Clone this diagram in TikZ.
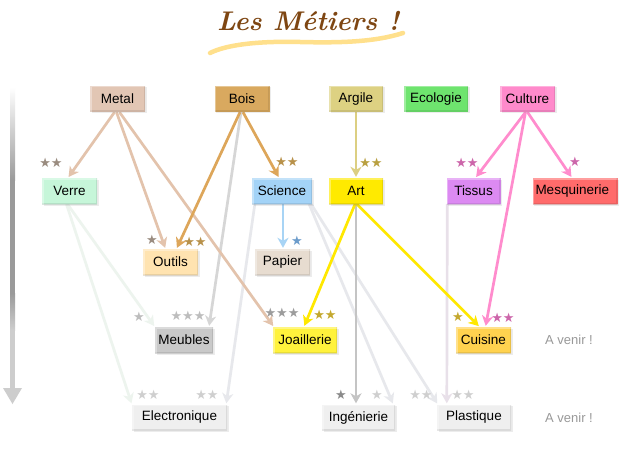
\documentclass[tikz,border=0pt]{standalone}
\usepackage{fontspec}
\setmainfont{Liberation Sans}
\newfontfamily\starfont{DejaVu Sans}
\newfontfamily\mytitlefont{Latin Modern Roman}
\usetikzlibrary{arrows.meta,shadows}
\pgfdeclarelayer{bg}
\pgfsetlayers{bg,main}

\definecolor{cMetal}{HTML}{E2C6B4}
\definecolor{eMetal}{HTML}{E3C3AC}
\definecolor{cBois}{HTML}{D9A95F}
\definecolor{eBois}{HTML}{DDA65A}
\definecolor{cArgile}{HTML}{DDD182}
\definecolor{eArgile}{HTML}{DCCF82}
\definecolor{cEco}{HTML}{6EE46E}
\definecolor{cCulture}{HTML}{FF8ACB}
\definecolor{eCulture}{HTML}{FF8CCD}
\definecolor{cVerre}{HTML}{C6F6D9}
\definecolor{cScience}{HTML}{A3D3F7}
\definecolor{eScience}{HTML}{A8D4F5}
\definecolor{cArt}{HTML}{FFEA00}
\definecolor{eArt}{HTML}{FFE800}
\definecolor{cTissus}{HTML}{DC8AF2}
\definecolor{cMesq}{HTML}{FF6B6B}
\definecolor{cOutils}{HTML}{FFE3B0}
\definecolor{cPapier}{HTML}{E7DCD0}
\definecolor{cMeubles}{HTML}{C9C9C9}
\definecolor{eMeubles}{HTML}{D6D6D6}
\definecolor{cJoa}{HTML}{FFF23C}
\definecolor{cCuisine}{HTML}{FFD24F}
\definecolor{cGrey}{HTML}{EFEFEF}
\definecolor{eArtIng}{HTML}{C4C4C4}
\definecolor{eFaint}{HTML}{E7E8EC}
\definecolor{eVerre}{HTML}{EDF4EE}
\definecolor{eTissus}{HTML}{E8E0E9}
\definecolor{cLbl}{HTML}{999999}
\definecolor{cTitle}{HTML}{7E4612}
\definecolor{cWave}{HTML}{FFE08C}
\definecolor{cBarDark}{HTML}{9A9A9A}
\definecolor{cBarLight}{HTML}{CDCDCD}
% star colours
\definecolor{sBrownGrey}{HTML}{9A8C80}
\definecolor{sGold}{HTML}{B8914A}
\definecolor{sOlive}{HTML}{B9A040}
\definecolor{sPink}{HTML}{CC66AA}
\definecolor{sBlue}{HTML}{6C9CCB}
\definecolor{sGrey}{HTML}{BDBDBD}
\definecolor{sMid}{HTML}{9C9C9C}
\definecolor{sYel}{HTML}{C4A82E}
\definecolor{sLight}{HTML}{CFCFCF}
\definecolor{sDark}{HTML}{8A8A8A}

\tikzset{
  box/.style={rectangle, fill=#1, minimum height=26pt, inner sep=0pt,
    font=\fontsize{13.5}{15}\selectfont, text=black,
    drop shadow={opacity=0.15, shadow xshift=1.5pt, shadow yshift=-1.5pt},
    path picture={
      \draw[#1!75!black, line width=3pt, opacity=0.35]
        (path picture bounding box.south west) -- (path picture bounding box.south east)
        -- (path picture bounding box.north east);
      \draw[white, line width=3pt, opacity=0.35]
        (path picture bounding box.south west) -- (path picture bounding box.north west)
        -- (path picture bounding box.north east);
    }},
  link/.style={draw=#1, line width=2.7pt,
    -{Stealth[length=10pt,width=11pt,inset=3pt]}, shorten >=1pt},
  stars/.style={font=\starfont\fontsize{13}{13}\selectfont, text=#1, inner sep=0pt},
  lbl/.style={font=\fontsize{13}{15}\selectfont, text=cLbl, inner sep=0pt}
}

\begin{document}
\begin{tikzpicture}[x=1pt,y=-1pt]
\useasboundingbox (0,0) rectangle (622,452);
\begin{pgfonlayer}{bg}
\fill[white] (0,0) rectangle (622,452);
\end{pgfonlayer}

% title
\node[text=cTitle, font=\mytitlefont\bfseries\itshape\fontsize{27}{30}\selectfont, inner sep=0pt] (title) at (308,21) {Les Métiers !};
\draw[cWave, line width=4.5pt, line cap=round] (210,53) .. controls (228,44) and (262,41) .. (300,42) .. controls (340,43) and (375,42) .. (403,33);

% time bar
\shade[top color=white, bottom color=cBarDark] (10,87) rectangle (15,180);
\fill[cBarDark] (10,180) rectangle (15,293);
\shade[top color=cBarDark, bottom color=cBarLight] (10,293) rectangle (15,330);
\fill[cBarLight] (10,330) rectangle (15,389);
\fill[cBarLight] (3,388) -- (22,388) -- (12.5,404) -- cycle;

% nodes
\node[box=cMetal, minimum width=55pt] (Metal) at (117.5,99) {Metal};
\node[box=cBois, minimum width=55pt] (Bois) at (242,99) {Bois};
\node[box=cArgile, minimum width=54pt] (Argile) at (356,99) {Argile};
\node[box=cEco, minimum width=64pt] (Ecologie) at (436,99) {Ecologie};
\node[box=cCulture, minimum width=55pt] (Culture) at (527.5,99) {Culture};

\node[box=cVerre, minimum width=55pt] (Verre) at (69.5,191) {Verre};
\node[box=cScience, minimum width=60pt] (Science) at (282,191) {Science};
\node[box=cArt, minimum width=54pt] (Art) at (356,191) {Art};
\node[box=cTissus, minimum width=54pt] (Tissus) at (473.5,191) {Tissus};
\node[box=cMesq, minimum width=85pt, text width=79pt, align=left] (Mesquinerie) at (575,191) {Mesquinerie};

\node[box=cOutils, minimum width=55pt] (Outils) at (170.5,262) {Outils};
\node[box=cPapier, minimum width=55pt] (Papier) at (282.5,262) {Papier};

\node[box=cMeubles, minimum width=58pt] (Meubles) at (184,340) {Meubles};
\node[box=cJoa, minimum width=64pt] (Joaillerie) at (305,340) {Joaillerie};
\node[box=cCuisine, minimum width=55pt] (Cuisine) at (483.5,340) {Cuisine};
\node[lbl] (Avenir1) at (569,340) {A venir !};

\node[box=cGrey, minimum width=95pt] (Electronique) at (179.5,417.5) {Electronique};
\node[box=cGrey, minimum width=73pt] (Ingenierie) at (358.5,417.5) {Ingénierie};
\node[box=cGrey, minimum width=74pt] (Plastique) at (474,417.5) {Plastique};
\node[lbl] (Avenir2) at (569,418) {A venir !};

% stars
\node[stars=sBrownGrey] (sVerre) at (51,163) {★★};
\node[stars=sGold] (sScience) at (287,162) {★★};
\node[stars=sOlive] (sArt) at (371,163) {★★};
\node[stars=sPink] (sTissus) at (467,163) {★★};
\node[stars=sPink] (sMesq) at (575,162) {★};
\node[stars=sBrownGrey] (sOutilsA) at (152,240) {★};
\node[stars=sGold] (sOutilsB) at (195,242) {★★};
\node[stars=sBlue] (sPapier) at (297,241) {★};
\node[stars=sGrey] (sMeublesA) at (139,317) {★};
\node[stars=sGrey] (sMeublesB) at (188,316) {★★★};
\node[stars=sMid] (sJoaA) at (282,313) {★★★};
\node[stars=sYel] (sJoaB) at (325,315) {★★};
\node[stars=sYel] (sCuisA) at (458,317) {★};
\node[stars=sPink] (sCuisB) at (503,318) {★★};
\node[stars=sLight] (sElecA) at (148,395) {★★};
\node[stars=sLight] (sElecB) at (207,395) {★★};
\node[stars=sDark] (sIngA) at (341,395) {★};
\node[stars=sLight] (sIngB) at (377,395) {★};
\node[stars=sLight] (sPlastA) at (421,395) {★★};
\node[stars=sLight] (sPlastB) at (463,395) {★★};

% connectors
\begin{pgfonlayer}{bg}
\draw[link=eVerre] ([xshift=-2pt]Verre.south) -- (Meubles.north west);
\draw[link=eVerre] ([xshift=-3pt]Verre.south) -- (Electronique.north west);
\draw[link=eTissus] ([xshift=1pt]Tissus.south west) -- ([xshift=10pt]Plastique.north west);
\draw[link=eFaint] ([xshift=3pt]Science.south west) -- ([xshift=-1pt]Electronique.north east);
\draw[link=eFaint] ([xshift=-3pt]Science.south east) -- ([xshift=-2pt]Ingenierie.north east);
\draw[link=eFaint] ([xshift=-1pt]Science.south east) -- ([xshift=1pt]Plastique.north west);
\draw[link=eMeubles] ([xshift=-1pt]Bois.south) -- ([xshift=25pt]Meubles.north);
\draw[link=eArtIng] (Art.south) -- ([xshift=-2.5pt]Ingenierie.north);
\draw[link=eMetal] ([xshift=-3pt]Metal.south) -- ([xshift=-1.5pt]Verre.north);
\draw[link=eMetal] ([xshift=-1pt]Metal.south) -- ([xshift=-5pt]Outils.north);
\draw[link=eMetal] ([xshift=2pt]Metal.south) -- ([xshift=1pt]Joaillerie.north west);
\draw[link=eBois] ([xshift=-2pt]Bois.south) -- ([xshift=6pt]Outils.north);
\draw[link=eBois] ([xshift=1pt]Bois.south) -- ([xshift=-3pt]Science.north);
\draw[link=eArgile] (Argile.south) -- (Art.north);
\draw[link=eCulture] ([xshift=-2pt]Culture.south) -- ([xshift=2pt]Tissus.north);
\draw[link=eCulture] (Culture.south) -- ([xshift=-3pt]Mesquinerie.north);
\draw[link=eCulture] ([xshift=-2pt]Culture.south) -- ([xshift=2pt]Cuisine.north);
\draw[link=eScience] ([xshift=1pt]Science.south) -- ([xshift=0.5pt]Papier.north);
\draw[link=eArt] ([xshift=-1pt]Art.south) -- ([xshift=-1pt]Joaillerie.north);
\draw[link=eArt] ([xshift=1pt]Art.south) -- ([xshift=-4pt]Cuisine.north);
\end{pgfonlayer}
\end{tikzpicture}
\end{document}
